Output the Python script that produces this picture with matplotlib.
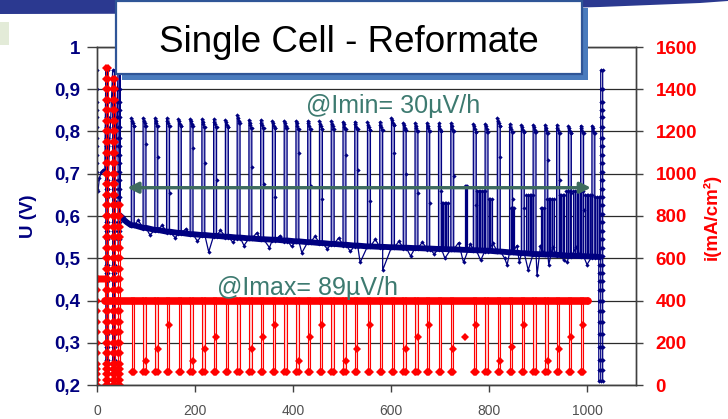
import matplotlib
matplotlib.use('Agg')
import matplotlib.pyplot as plt
from matplotlib.patches import Rectangle, Polygon

W, H = 728, 419
NAVY = '#000080'
RED = '#ff0000'
TEAL = '#3d7a70'

# polarisation steps: current (mA/cm2) and cell voltage (V)
pol_i = [0, 25, 50, 75, 100, 150, 200, 250, 300, 350,
         400, 450, 500, 550, 600, 650, 700, 750, 800, 850,
         900, 950, 1000, 1050, 1100, 1150, 1200, 1250, 1300, 1350,
         1400, 1450, 1500]
pol_u = [0.945, 0.900, 0.870, 0.850, 0.835, 0.810, 0.785, 0.765, 0.745, 0.725,
         0.705, 0.685, 0.665, 0.645, 0.625, 0.605, 0.585, 0.565, 0.545, 0.525,
         0.505, 0.485, 0.465, 0.445, 0.425, 0.400, 0.375, 0.350, 0.320, 0.290,
         0.260, 0.235, 0.210]

# start-up sweeps (h) and the highest current reached
sweep_t = [0, 18, 32, 43]
sweep_top = [500, 1500, 1450, 850]
sweep_back = [False, True, True, True]
sweep_hold_u = [0.71, 0.665, 0.635, 0.60]

# conditioning at 500 mA/cm2
pre_t = [2, 5, 9, 13, 16]
pre_u = [0.66, 0.69, 0.705, 0.71, 0.71]
i_pre = 500

# constant load
i_hold = 400
hold_start, hold_end = 16, 1003
i_low = 60

early_t = [48, 52, 56, 61, 66]
early_u = [0.600, 0.596, 0.590, 0.585, 0.581]

# daily characterisation (Imin) steps
dip_t = [73, 97, 121, 145, 169, 193, 217, 241, 265, 289,
         313, 337, 361, 385, 409, 433, 457, 481, 505, 529,
         555, 580, 604, 628, 652, 676, 700, 725, 771, 795,
         820, 845, 869, 893, 917, 941, 965, 990, 1013]
dip_foot_u = [0.578, 0.572, 0.567, 0.563, 0.560, 0.557, 0.555, 0.553, 0.551, 0.549,
              0.547, 0.545, 0.544, 0.542, 0.540, 0.538, 0.536, 0.534, 0.532, 0.530,
              0.528, 0.527, 0.526, 0.525, 0.524, 0.523, 0.522, 0.521, 0.519, 0.518,
              0.516, 0.514, 0.512, 0.510, 0.509, 0.508, 0.506, 0.505, 0.504]
dip_peak_u = [0.832, 0.832, 0.831, 0.831, 0.830, 0.830, 0.829, 0.829, 0.828, 0.838,
              0.827, 0.827, 0.826, 0.826, 0.825, 0.825, 0.824, 0.824, 0.823, 0.823,
              0.822, 0.822, 0.833, 0.821, 0.820, 0.820, 0.819, 0.819, 0.818, 0.818,
              0.832, 0.817, 0.816, 0.816, 0.815, 0.815, 0.814, 0.814, 0.814]
N = None
dip_mid_i = [N, 115, 169, 283, N, 115, 169, 227, N, N,
             169, 227, 283, N, 115, 227, 283, N, 115, 169,
             283, N, N, 169, 227, 283, N, 169, 283, N,
             115, 180, 283, N, 115, 169, 227, 283, N]
dip_mid_u = [N, 0.770, 0.740, 0.654, N, 0.760, 0.725, 0.685, N, N,
             0.717, 0.675, 0.645, N, 0.750, 0.670, 0.640, N, 0.745, 0.710,
             0.635, N, 0.749, 0.700, 0.655, 0.630, 0.660, 0.695, 0.625, N,
             0.740, 0.640, 0.620, N, 0.733, 0.685, 0.655, 0.615, N]
peak_droop = 0.018

stray_t = [750]
stray_i = [227]

# single readings off the voltage trend (low and high)
out_t = [84, 108, 133, 160, 182, 205, 228, 252, 277, 300, 326, 352, 373, 397, 418, 445, 470, 493,
         517, 537, 568, 583, 616, 640, 664, 688, 710, 738, 748, 762, 783, 808, 832, 837, 857, 862,
         880, 898, 905, 922, 930, 953, 960, 978, 1000]
out_u = [0.590, 0.555, 0.578, 0.548, 0.570, 0.540, 0.515, 0.566, 0.538, 0.530, 0.560, 0.525, 0.553,
         0.528, 0.513, 0.552, 0.522, 0.548, 0.516, 0.490, 0.545, 0.472, 0.540, 0.505, 0.538, 0.510,
         0.500, 0.537, 0.490, 0.534, 0.495, 0.535, 0.500, 0.484, 0.530, 0.490, 0.472, 0.460, 0.528,
         0.485, 0.527, 0.495, 0.490, 0.526, 0.485]

# noisy periods late in the test
clu_t0 = [704, 752, 776, 800, 845, 876, 906, 918, 944, 958, 972, 996, 1016]
clu_t1 = [716, 756, 792, 806, 852, 890, 912, 932, 954, 966, 992, 1010, 1024]
clu_top = [0.63, 0.67, 0.66, 0.64, 0.62, 0.65, 0.62, 0.64, 0.65, 0.66, 0.66, 0.65, 0.645]
clu_foot = [0.521, 0.520, 0.519, 0.518, 0.514, 0.511, 0.510, 0.509, 0.508, 0.507, 0.506, 0.505, 0.504]

# final polarisation sweep
end_t = [1024, 1028, 1032]
end_foot_u = 0.503

x_ticks = [0, 200, 400, 600, 800, 1000]
u_ticks = [0.2, 0.3, 0.4, 0.5, 0.6, 0.7, 0.8, 0.9, 1.0]
u_labels = ['0,2', '0,3', '0,4', '0,5', '0,6', '0,7', '0,8', '0,9', '1']
i_ticks = [0, 200, 400, 600, 800, 1000, 1200, 1400, 1600]


def steps_to(top):
    return [k for k, c in enumerate(pol_i) if c <= top]


# ---- current trace ----
rt, ri = [], []
for t, top, back in zip(sweep_t, sweep_top, sweep_back):
    idx = steps_to(top)
    if back:
        rt += [t]; ri += [i_hold]
    rt += [t] * len(idx); ri += [pol_i[k] for k in idx]
    if back:
        rt += [t + 4] * len(idx); ri += [pol_i[k] for k in idx[::-1]]
        rt += [t + 4]; ri += [i_hold]
    else:
        rt += pre_t; ri += [i_pre] * len(pre_t)
        rt += [hold_start]; ri += [i_hold]
for k, td in enumerate(dip_t):
    if td >= hold_end:
        continue
    rt += [td - 2.5, td - 2.5, td, td + 2.5]
    ri += [i_hold, i_low, i_low, i_low]
    if dip_mid_i[k] is not None:
        rt.append(td + 2.5); ri.append(dip_mid_i[k])
    rt.append(td + 2.5); ri.append(i_hold)
rt.append(hold_end); ri.append(i_hold)

# ---- voltage trace, assembled from time-ordered pieces ----
pieces = []
bt, bu = [], []
for t, top, back, hu in zip(sweep_t, sweep_top, sweep_back, sweep_hold_u):
    idx = steps_to(top)
    bt += [t] * len(idx); bu += [pol_u[k] for k in idx]
    if back:
        bt += [t + 4] * len(idx); bu += [pol_u[k] for k in idx[::-1]]
        bt += [t + 4]; bu += [hu]
    else:
        bt += pre_t; bu += pre_u
pieces.append((bt, bu))
pieces.append((early_t, early_u))

base_t = list(early_t)
base_u = list(early_u)
for k, td in enumerate(dip_t):
    foot, peak = dip_foot_u[k], dip_peak_u[k]
    pt = [td - 3, td - 3, td - 1.5, td, td + 1.5, td + 3]
    pu = [foot, peak, peak - peak_droop / 3, peak - 2 * peak_droop / 3, peak - peak_droop, peak - peak_droop]
    if dip_mid_u[k] is not None:
        pt.append(td + 3); pu.append(dip_mid_u[k])
    pt.append(td + 3); pu.append(foot)
    pieces.append((pt, pu))
    base_t += [td - 3, td + 3]
    base_u += [foot, foot]
for t, u in zip(out_t, out_u):
    pieces.append(([t], [u]))

idx_end = [k for k, u in enumerate(pol_u) if u <= end_foot_u]
et = [end_t[0]] + [end_t[0]] * len(idx_end) + [end_t[1]] * len(pol_u) + [end_t[2]] * len(pol_u)
eu = [end_foot_u] + [pol_u[k] for k in idx_end] + pol_u[::-1] + pol_u
pieces.append((et, eu))
base_t.append(end_t[0]); base_u.append(end_foot_u)

pieces.sort(key=lambda p: p[0][0])
vt, vu = [], []
for pt, pu in pieces:
    vt += list(pt); vu += list(pu)

# ---- figure ----
fig = plt.figure(figsize=(W / 100, H / 100), dpi=100)
fig.patch.set_facecolor('white')
plt.rcParams['font.family'] = ['Liberation Sans', 'DejaVu Sans']

ax = fig.add_axes([97 / W, 1 - 385 / H, (636 - 97) / W, (385 - 47) / H])
ax2 = ax.twinx()

ax.set_xlim(0, 1100)
ax.set_ylim(0.2, 1.0)
ax2.set_ylim(0, 1600)

ax.set_axisbelow(True)
ax.grid(axis='y', color='#2a2a2a', lw=0.9)
ax.grid(axis='x', visible=False)

# light shading between the up and down strokes of each step
ax.bar(dip_t, [p - f for p, f in zip(dip_peak_u, dip_foot_u)], bottom=dip_foot_u,
       width=6, color='#a5a5da', zorder=1.5)
red_dips = [td for td in dip_t if td < hold_end]
ax2.bar(red_dips, [i_hold - i_low] * len(red_dips), bottom=i_low,
        width=5, color='#ffd2d2', zorder=1.5)

for t0, t1, top, foot in zip(clu_t0, clu_t1, clu_top, clu_foot):
    ax.fill_between([t0, t1], [foot, foot], [top, top], color='#8080c8', lw=0, zorder=1.6)
    n = max(2, int((t1 - t0) / 3))
    xs = [t0 + (t1 - t0) * j / n for j in range(n + 1)]
    ax.vlines(xs, foot, top, color=NAVY, lw=0.9, zorder=1.7)
    ax.plot(xs, [top] * len(xs), ls='none', color=NAVY, marker='D', ms=2.2, mew=0, zorder=1.7)

ax.plot(vt, vu, color=NAVY, lw=0.9, marker='D', ms=2.2, mew=0, zorder=2)
ax.plot(base_t, base_u, color=NAVY, lw=4.2, marker='D', ms=3, mew=0, zorder=2.5)

ax2.plot(rt, ri, color=RED, lw=0.8, marker='D', ms=3.8, mew=0, zorder=2)
ax2.plot([hold_start, hold_end], [i_hold, i_hold], color=RED, lw=5.5, solid_capstyle='round', zorder=2.5)
ax2.plot(stray_t, stray_i, ls='none', color=RED, marker='D', ms=3.8, mew=0, zorder=2.5)
ax2.patch.set_visible(False)

# drift annotations
ax.annotate('', xy=(1008, 0.667), xytext=(62, 0.667),
            arrowprops=dict(arrowstyle='<|-|>', color='#3e6b5e', lw=2.4, mutation_scale=16,
                            shrinkA=0, shrinkB=0), zorder=10)
ax2.text(605, 1321, '@Imin= 30µV/h', color=TEAL, fontsize=18, ha='center', va='center', zorder=10)
ax2.text(430, 459, '@Imax= 89µV/h', color=TEAL, fontsize=18, ha='center', va='center', zorder=10)

# axes styling
ax.set_xticks(x_ticks)
ax.set_xticklabels([str(v) for v in x_ticks])
ax.set_yticks(u_ticks)
ax.set_yticklabels(u_labels)
ax2.set_yticks(i_ticks)
ax2.set_yticklabels([str(v) for v in i_ticks])

ax.tick_params(axis='x', direction='out', length=5, width=1, color='#404040',
               labelsize=10, labelcolor='#505050', pad=9)
ax.tick_params(axis='y', direction='out', length=7, width=1, color='#404040',
               labelsize=13.5, labelcolor=NAVY, pad=5)
ax2.tick_params(axis='y', direction='out', length=5, width=1, color='#404040',
                labelsize=13.5, labelcolor=RED, pad=9)
for lab in ax.get_yticklabels() + ax2.get_yticklabels():
    lab.set_fontweight('bold')
for a in (ax, ax2):
    for s in a.spines.values():
        s.set_color('#404040')
        s.set_linewidth(1)


def fx(x):
    return x / W


def fy(y):
    return 1 - y / H


fig.text(fx(28.5), fy(216), 'U (V)', rotation=90, color=NAVY, fontsize=13.5,
         fontweight='bold', ha='center', va='center')
fig.text(fx(712), fy(217), 'i(mA/cm²)', rotation=90, color=RED, fontsize=13.5,
         fontweight='bold', ha='center', va='center')

# slide decoration: header band, title box with shadow
band = [(0, 0), (W, 0), (W, 1), (700, 3), (600, 7), (450, 11), (250, 13.5), (0, 14)]
fig.add_artist(Polygon([(fx(x), fy(y)) for x, y in band], closed=True,
                       transform=fig.transFigure, color='#2b3990', lw=0, zorder=5))
fig.add_artist(Rectangle((0, fy(45)), fx(9), 23 / H, transform=fig.transFigure,
                         color='#e3ebd8', lw=0, zorder=5))
fig.add_artist(Rectangle((fx(122), fy(80)), 466 / W, 72 / H, transform=fig.transFigure,
                         color='#4a7bbd', lw=0, zorder=6))
fig.add_artist(Rectangle((fx(116.5), fy(74)), 465.5 / W, 72.5 / H, transform=fig.transFigure,
                         facecolor='white', edgecolor='#2f5597', lw=1.6, zorder=7))
fig.text(fx(349), fy(52.5), 'Single Cell - Reformate', fontsize=26.5, color='black',
         ha='center', va='baseline', zorder=8)

fig.savefig('out.png', dpi=100)
